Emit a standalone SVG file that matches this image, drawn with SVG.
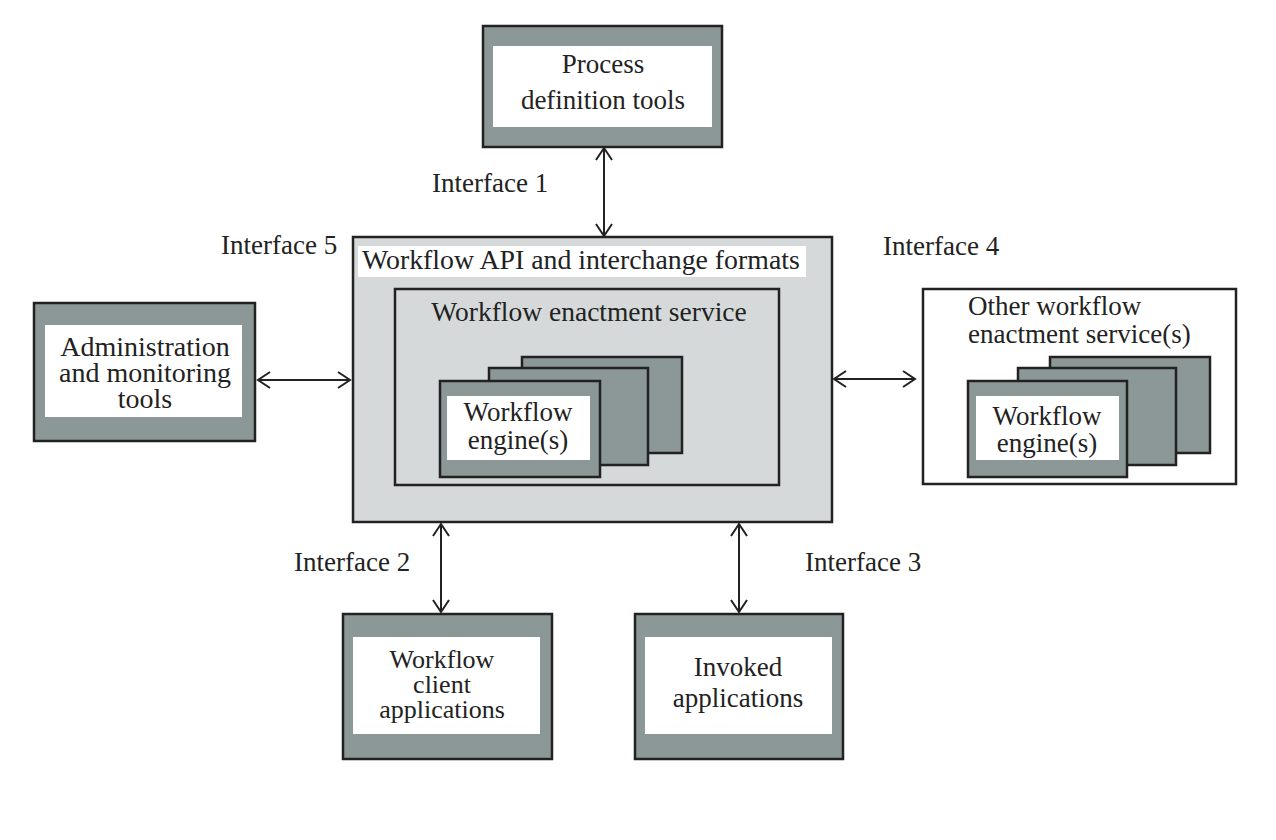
<svg xmlns="http://www.w3.org/2000/svg" width="1276" height="840" viewBox="0 0 1276 840">
<style>
text{font-family:"Liberation Serif","DejaVu Serif",serif;font-size:27px;fill:#222}
.c{text-anchor:middle}
.m{font-size:26px}
.dark{fill:#8c9797;stroke:#222;stroke-width:2.5}
.white{fill:#fff;stroke:none}
.light{fill:#d5d9d9;stroke:#222;stroke-width:2.5}
.wbox{fill:#fff;stroke:#222;stroke-width:2.5}
.conn{stroke:#222;stroke-width:2;fill:none;marker-start:url(#ah);marker-end:url(#ah)}
</style>
<defs>
<marker id="ah" markerUnits="userSpaceOnUse" markerWidth="16" markerHeight="20" refX="13" refY="9" orient="auto-start-reverse" viewBox="0 0 16 20">
<path d="M1,1 L13,9 L1,17" fill="none" stroke="#222" stroke-width="2"/>
</marker>
</defs>
<rect width="1276" height="840" fill="#fff"/>

<g id="connectors">
<line class="conn" x1="604" y1="148" x2="604" y2="236"/>
<line class="conn" x1="258" y1="380" x2="350" y2="380"/>
<line class="conn" x1="834" y1="379" x2="915" y2="379"/>
<line class="conn" x1="441" y1="524" x2="441" y2="612"/>
<line class="conn" x1="739" y1="524" x2="739" y2="612"/>
</g>

<g id="labels">
<text x="432" y="192">Interface 1</text>
<text x="221" y="254">Interface 5</text>
<text x="883" y="255">Interface 4</text>
<text x="294" y="571">Interface 2</text>
<text x="805" y="571">Interface 3</text>
</g>

<g id="process-definition-tools">
<rect class="dark" x="483" y="26" width="239" height="121"/>
<rect class="white" x="493" y="46" width="219" height="81"/>
<text class="c" x="603" y="73">Process</text>
<text class="c" x="603" y="109">definition tools</text>
</g>

<g id="workflow-api">
<rect class="light" x="353" y="237" width="479" height="285"/>
<rect class="white" x="358" y="246" width="448" height="31"/>
<text x="362" y="269" style="font-size:27.8px">Workflow API and interchange formats</text>
</g>

<g id="enactment-service">
<rect class="light" x="395" y="289" width="384" height="196"/>
<text class="c" x="589" y="321" style="font-size:27.5px">Workflow enactment service</text>
</g>

<g id="workflow-engines">
<rect class="dark" x="522" y="357" width="160" height="96"/>
<rect class="dark" x="489" y="368" width="159" height="97"/>
<rect class="dark" x="440" y="381" width="160" height="96"/>
<rect class="white" x="447" y="396" width="143" height="64"/>
<text class="c" x="518" y="421">Workflow</text>
<text class="c" x="518" y="449">engine(s)</text>
</g>

<g id="administration-tools">
<rect class="dark" x="34" y="303" width="221" height="138"/>
<rect class="white" x="45" y="325" width="197" height="92"/>
<text class="c" x="145" y="356" style="font-size:28px">Administration</text>
<text class="c" x="145" y="382" style="font-size:28px">and monitoring</text>
<text class="c" x="145" y="408" style="font-size:28px">tools</text>
</g>

<g id="other-enactment-services">
<rect class="wbox" x="923" y="289" width="313" height="195"/>
<text x="968" y="315">Other workflow</text>
<text x="968" y="343">enactment service(s)</text>
<rect class="dark" x="1050" y="357" width="160" height="96"/>
<rect class="dark" x="1018" y="368" width="158" height="97"/>
<rect class="dark" x="968" y="381" width="159" height="96"/>
<rect class="white" x="976" y="396" width="143" height="64"/>
<text class="c" x="1047" y="425">Workflow</text>
<text class="c" x="1047" y="452">engine(s)</text>
</g>

<g id="client-applications">
<rect class="dark" x="343" y="614" width="209" height="145"/>
<rect class="white" x="353" y="637" width="187" height="97"/>
<text class="c m" x="442" y="668">Workflow</text>
<text class="c m" x="442" y="693">client</text>
<text class="c m" x="442" y="718">applications</text>
</g>

<g id="invoked-applications">
<rect class="dark" x="635" y="614" width="208" height="145"/>
<rect class="white" x="645" y="637" width="187" height="97"/>
<text class="c" x="738" y="676">Invoked</text>
<text class="c" x="738" y="707">applications</text>
</g>
</svg>
